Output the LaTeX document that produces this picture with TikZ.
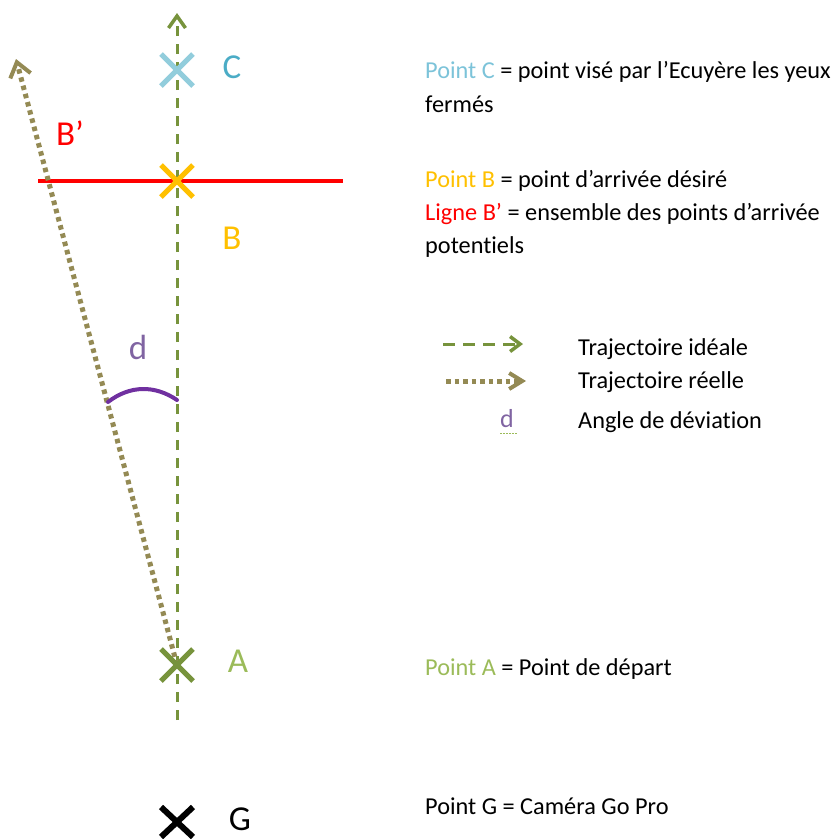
\documentclass[tikz,border=0pt]{standalone}
\usepackage{fontspec}
\setmainfont{Carlito}[Ligatures=NoCommon]
\usetikzlibrary{arrows.meta,calc}
\definecolor{ideal}{HTML}{77933C}
\definecolor{reel}{HTML}{948A54}
\definecolor{rouge}{HTML}{FF0000}
\definecolor{orange}{HTML}{FFC000}
\definecolor{cielcross}{HTML}{92CDDC}
\definecolor{ciellab}{HTML}{4BACC6}
\definecolor{ciettxt}{HTML}{7CC3D9}
\definecolor{vertlab}{HTML}{9BBB59}
\definecolor{violet}{HTML}{7030A0}
\definecolor{dlab}{HTML}{8064A2}
\begin{document}
\begin{tikzpicture}[x=1pt,y=-1pt,
  idealline/.style={ideal,line width=3pt,dash pattern=on 10pt off 8pt},
  reelline/.style={reel,line width=5pt,dash pattern=on 4.5pt off 4pt},
  tipA/.style={-{Straight Barb[length=12pt,width=17pt,line width=3.5pt]}},
  tipB/.style={-{Straight Barb[length=14pt,width=21pt,line width=4pt]}},
  crossmark/.style={line width=5pt},
  biglab/.style={font=\fontsize{35}{38}\selectfont,inner sep=0pt},
  txt/.style={anchor=base west,inner sep=0pt,font=\fontsize{24.3}{28}\selectfont}]
\useasboundingbox (0,0) rectangle (835,839);
% coordinates
\coordinate (A) at (177,665);
\coordinate (B) at (177,181);
\coordinate (C) at (177,70);
\coordinate (G) at (177,822);
\coordinate (idealbot) at (177,720);
\coordinate (idealtop) at (177,13);
\coordinate (reeltop) at (16,59);
\coordinate (redL) at (38,181);
\coordinate (redR) at (343,181);
\coordinate (arcL) at (108,402);
\coordinate (arcR) at (177,400);
% red line
\draw[rouge,line width=4pt] (redL) -- (redR);
% ideal trajectory
\draw[idealline,tipA] (idealbot) -- (idealtop);
% real trajectory
\draw[reelline,tipB] (A) -- (reeltop);
% angle arc
\draw[violet,line width=4pt,line cap=round] (arcL) .. controls (130,385) and (155,385) .. (arcR);
% crosses
\draw[cielcross,crossmark] ($(C)+(-16,-16)$) -- ($(C)+(16,16)$);
\draw[cielcross,crossmark] ($(C)+(-16,16)$) -- ($(C)+(16,-16)$);
\draw[orange,crossmark] ($(B)+(-16,-16)$) -- ($(B)+(16,16)$);
\draw[orange,crossmark] ($(B)+(-16,16)$) -- ($(B)+(16,-16)$);
\draw[ideal,crossmark] ($(A)+(-16,-16)$) -- ($(A)+(16,16)$);
\draw[ideal,crossmark] ($(A)+(-16,16)$) -- ($(A)+(16,-16)$);
\draw[black,line width=6pt] ($(G)+(-16,-15)$) -- ($(G)+(16,15)$);
\draw[black,line width=6pt] ($(G)+(-16,15)$) -- ($(G)+(16,-15)$);
% big labels
\node[biglab,ciellab] (labC) at (232,67) {C};
\node[biglab,orange] (labB) at (232,238) {B};
\node[biglab,vertlab] (labA) at (238,661) {A};
\node[biglab,black] (labG) at (240,819) {G};
\node[biglab,rouge] (labBp) at (70,133) {B’};
\node[biglab,dlab] (labd) at (138,347) {d};
% legend texts
\node[txt] (t1) at (425,78) {\textcolor{ciettxt}{Point C} = point visé par l’Ecuyère les yeux};
\node[txt] (t2) at (425,112) {fermés};
\node[txt] (t3) at (425,187) {\textcolor{orange}{Point B} = point d’arrivée désiré};
\node[txt] (t4) at (425,220) {\textcolor{rouge}{Ligne B’} = ensemble des points d’arrivée};
\node[txt] (t5) at (425,253) {potentiels};
\node[txt] (t6) at (578,355) {Trajectoire idéale};
\node[txt] (t7) at (578,388) {Trajectoire réelle};
\node[txt] (t8) at (578,428) {Angle de déviation};
\node[txt] (t9) at (425,675) {\textcolor{vertlab}{Point A} = Point de départ};
\node[txt] (t10) at (425,814) {Point G = Caméra Go Pro};
% legend symbols
\coordinate (l1a) at (443,344);
\coordinate (l1b) at (523,344);
\coordinate (l2a) at (446,381);
\coordinate (l2b) at (526,381);
\draw[idealline,dash pattern=on 12pt off 8pt,-{Straight Barb[length=10pt,width=15pt,line width=3.5pt]}] (l1a) -- (l1b);
\draw[reelline,-{Straight Barb[length=13pt,width=16pt,line width=4pt]}] (l2a) -- (l2b);
\node[txt,dlab,font=\fontsize{26}{28}\selectfont] (ld) at (500,427) {d};
\coordinate (ula) at (500,433);
\coordinate (ulb) at (518,433);
\draw[vertlab,line width=1pt,dash pattern=on 1.5pt off 1.5pt] (ula) -- (ulb);
\end{tikzpicture}
\end{document}
